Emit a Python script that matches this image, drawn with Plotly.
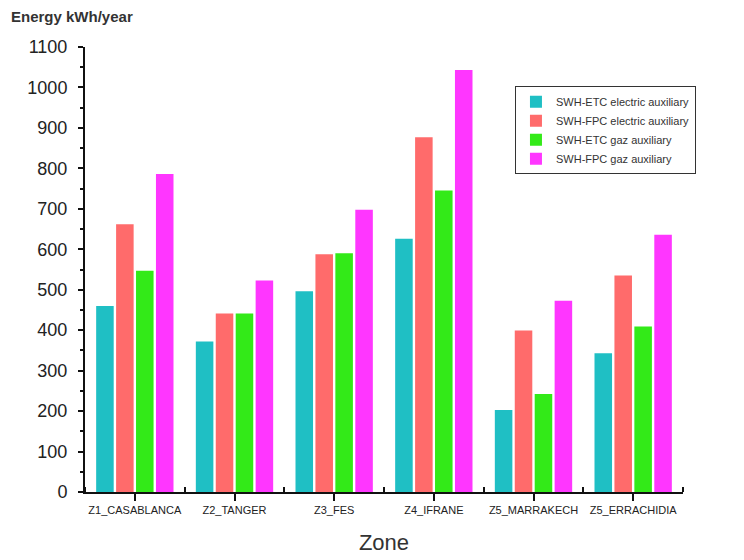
import plotly.graph_objects as go

zones = ["Z1_CASABLANCA", "Z2_TANGER", "Z3_FES", "Z4_IFRANE", "Z5_MARRAKECH", "Z5_ERRACHIDIA"]
etc_electric = [460, 372, 496, 626, 203, 343]
fpc_electric = [662, 441, 588, 877, 399, 535]
etc_gaz = [547, 441, 590, 745, 242, 409]
fpc_gaz = [786, 523, 698, 1043, 473, 636]

series = [
    ("SWH-ETC electric auxiliary", etc_electric, "#1FBFC4"),
    ("SWH-FPC electric auxiliary", fpc_electric, "#FF6B6B"),
    ("SWH-ETC gaz auxiliary", etc_gaz, "#33EA18"),
    ("SWH-FPC gaz auxiliary", fpc_gaz, "#FF36FF"),
]

xpos = list(range(len(zones)))

fig = go.Figure()
for name, vals, col in series:
    fig.add_trace(go.Bar(x=xpos, y=vals, name=name, marker=dict(color=col, line=dict(width=0))))

fig.update_layout(
    width=736, height=552,
    margin=dict(l=77, r=61, t=39, b=68),
    paper_bgcolor="white", plot_bgcolor="white",
    barmode="group", bargap=0.2, bargroupgap=0.12,
    font=dict(family="Liberation Sans, Arial, sans-serif", color="#222"),
    legend=dict(
        x=0.719, y=0.912, xanchor="left", yanchor="top",
        bgcolor="white", bordercolor="#333", borderwidth=1,
        font=dict(size=11, color="#333"),
        tracegroupgap=0, itemwidth=30,
    ),
    showlegend=True,
)

fig.update_xaxes(
    range=[-0.5, 5.5], automargin=False,
    tickmode="array", tickvals=xpos, ticktext=zones, tickangle=0,
    tickfont=dict(family="Liberation Sans, Arial, sans-serif", size=11, color="#222"),
    ticks="outside", ticklen=7, tickwidth=1.5, tickcolor="#111",
    minor=dict(tickmode="array", tickvals=[i + 0.5 for i in range(-1, len(zones))], ticks="inside", ticklen=5, tickwidth=1.5, tickcolor="#111"),
    showline=True, linecolor="#111", linewidth=2,
    showgrid=False, zeroline=False,
    title=dict(text="Zone", font=dict(size=22, color="#333"), standoff=19),
)

fig.update_yaxes(
    range=[0, 1100], automargin=False,
    tickmode="linear", tick0=0, dtick=100,
    tickfont=dict(size=18, color="#222"), ticklabelstandoff=7,
    ticks="outside", ticklen=5, tickwidth=1.5, tickcolor="#111",
    minor=dict(tick0=50, dtick=100, ticks="outside", ticklen=3, tickwidth=1.5, tickcolor="#111"),
    showline=True, linecolor="#111", linewidth=2,
    showgrid=False, zeroline=False,
)

fig.add_annotation(
    text="<b>Energy kWh/year</b>", xref="paper", yref="paper",
    x=-0.127, y=1.0, xanchor="left", yanchor="bottom", yshift=20,
    showarrow=False, font=dict(size=15, color="#333"),
)

fig.write_html("out.html")
